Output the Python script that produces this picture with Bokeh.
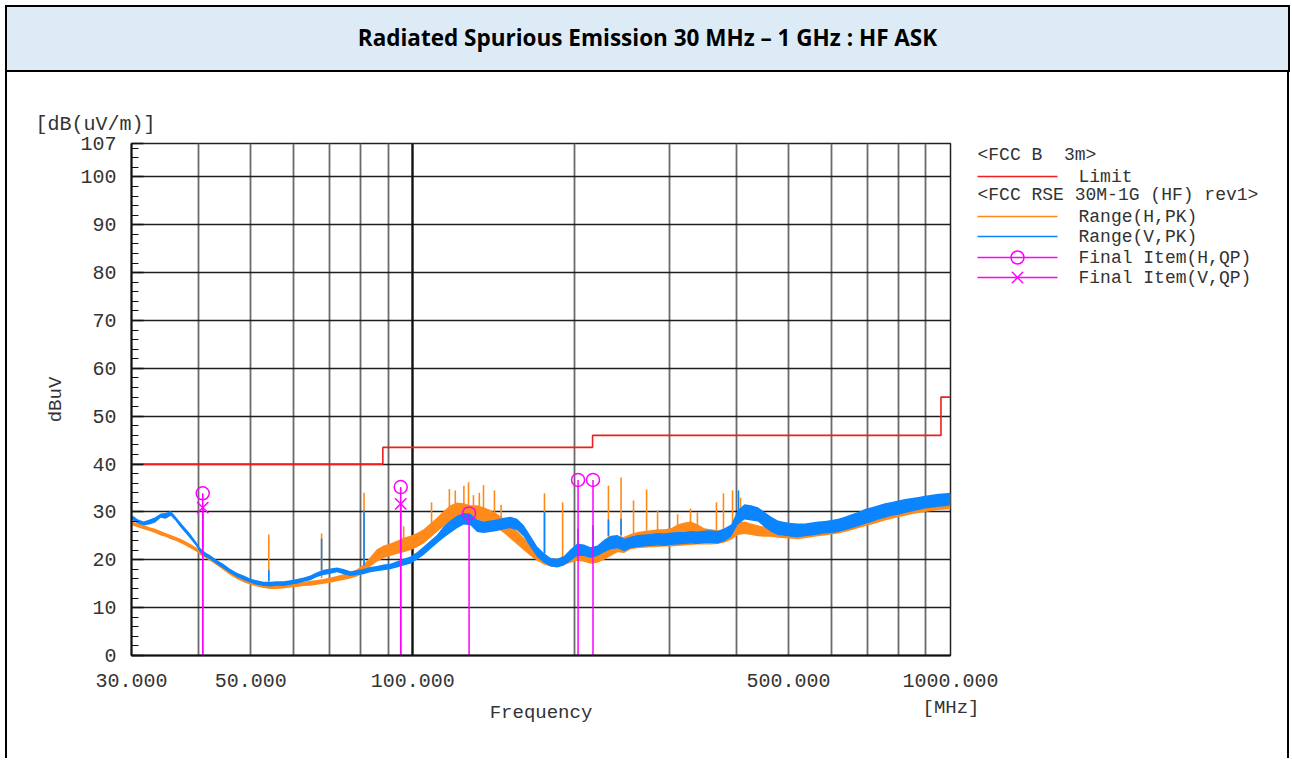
from bokeh.plotting import figure
from bokeh.models import (FixedTicker, PrintfTickFormatter, Div, Grid, Range1d, Title)
from bokeh.core.properties import value
from bokeh.layouts import column, row
from bokeh.embed import file_html
from bokeh.resources import INLINE

TITLE = "Radiated Spurious Emission 30 MHz \u2013 1 GHz : HF ASK"

# ---------------- axes / ticks ----------------
x_label_ticks = [30, 50, 100, 500, 1000]
x_grid_ticks = [40, 50, 60, 70, 80, 90, 100, 200, 300, 400, 500, 600, 700, 800, 900]
y_label_ticks = [0, 10, 20, 30, 40, 50, 60, 70, 80, 90, 100, 107]
y_grid_ticks = [10, 20, 30, 40, 50, 60, 70, 80, 90, 100]
y_minor_ticks = [2, 4, 6, 8, 12, 14, 16, 18, 22, 24, 26, 28, 32, 34, 36, 38,
                 42, 44, 46, 48, 52, 54, 56, 58, 62, 64, 66, 68, 72, 74, 76, 78,
                 82, 84, 86, 88, 92, 94, 96, 98, 102, 104, 106]

# ---------------- limit (FCC B 3m) ----------------
limit_f = [30, 88, 216, 960, 1000]
limit_db = [40, 43.5, 46, 54, 54]

# ---------------- sweep frequencies (MHz) ----------------
freq_mhz = [
    30.0, 30.8, 31.6, 32.4, 33.2, 34.0, 34.7, 35.5, 36.2, 37.0,
    37.8, 38.6, 39.5, 40.3, 41.2, 42.1, 43.3, 44.5, 45.8, 47.1,
    48.5, 49.9, 51.3, 52.8, 54.3, 55.9, 57.5, 59.2, 60.9, 62.7,
    64.5, 66.4, 68.3, 70.3, 72.3, 74.4, 76.6, 78.8, 81.0, 83.4,
    85.8, 88.3, 90.8, 93.5, 96.2, 99.0, 101.8, 104.8, 107.8, 110.9,
    114.2, 117.5, 120.9, 124.4, 128.0, 131.7, 135.5, 139.5, 143.5, 147.7,
    152.0, 156.4, 160.9, 165.6, 170.4, 175.4, 180.5, 185.7, 191.1, 196.6,
    202.3, 208.2, 214.2, 220.5, 226.9, 233.5, 240.3, 247.2, 254.4, 261.8,
    269.4, 277.2, 285.3, 293.6, 302.1, 310.9, 319.9, 329.2, 338.8, 348.6,
    358.7, 369.1, 379.9, 390.9, 402.3, 413.9, 426.0, 438.3, 451.1, 464.2,
    477.6, 491.5, 505.8, 520.5, 535.6, 551.2, 567.2, 583.6, 600.6, 618.0,
    636.0, 654.5, 673.5, 693.0, 713.2, 733.9, 755.2, 777.2, 799.7, 823.0,
    846.9, 871.5, 896.8, 922.9, 949.7, 977.3, 1000.0]

# Range (H, PK) : lower / upper edge of the noisy trace, dB(uV/m)
h_low = [
    27.2, 26.8, 26.4, 26.0, 25.6, 25.1, 24.8, 24.3, 24.0, 23.5,
    23.0, 22.4, 21.8, 21.0, 20.4, 19.7, 18.8, 17.8, 16.8, 16.0,
    15.3, 14.8, 14.4, 14.1, 13.9, 13.9, 14.0, 14.2, 14.3, 14.5,
    14.6, 14.8, 15.0, 15.2, 15.5, 15.8, 16.1, 16.5, 17.2, 18.6,
    19.6, 20.4, 20.8, 21.2, 21.6, 22.0, 22.6, 23.4, 24.6, 25.8,
    27.0, 28.0, 28.6, 28.6, 28.2, 28.4, 28.0, 27.4, 26.6, 25.6,
    24.4, 23.2, 22.0, 20.8, 19.8, 19.0, 18.6, 18.5, 18.9, 19.4,
    19.8, 19.6, 19.2, 19.4, 20.0, 20.8, 21.6, 21.4, 22.2, 22.4,
    22.5, 22.6, 22.7, 22.8, 22.8, 22.9, 23.0, 23.1, 23.2, 23.2,
    23.2, 23.3, 23.6, 24.2, 25.2, 25.4, 25.2, 24.9, 24.8, 24.8,
    24.6, 24.5, 24.4, 24.3, 24.5, 24.7, 24.9, 25.1, 25.3, 25.5,
    25.8, 26.2, 26.6, 27.0, 27.4, 27.8, 28.2, 28.6, 28.9, 29.2,
    29.5, 29.8, 30.0, 30.2, 30.4, 30.5, 30.6]
h_high = [
    28.1, 27.6, 27.3, 26.8, 26.5, 26.0, 25.6, 25.2, 24.8, 24.4,
    23.9, 23.3, 22.6, 21.9, 21.3, 20.6, 19.7, 18.7, 17.7, 16.9,
    16.2, 15.7, 15.3, 15.0, 14.9, 14.8, 15.0, 15.1, 15.3, 15.4,
    15.6, 15.8, 16.0, 16.3, 16.6, 17.0, 17.4, 18.0, 19.0, 20.6,
    22.2, 23.0, 23.4, 24.0, 24.6, 25.0, 25.6, 26.4, 27.6, 28.8,
    30.2, 31.4, 32.0, 31.8, 31.4, 31.4, 31.0, 30.4, 29.6, 28.6,
    27.4, 26.0, 24.6, 23.2, 22.0, 21.0, 20.4, 20.2, 20.6, 21.4,
    21.8, 21.4, 20.8, 21.2, 22.2, 23.6, 24.6, 24.8, 25.4, 25.8,
    26.0, 26.2, 26.4, 26.4, 26.6, 27.4, 27.8, 28.0, 27.4, 26.6,
    26.4, 26.2, 26.4, 27.0, 27.8, 28.0, 27.6, 27.2, 26.9, 26.7,
    26.8, 26.8, 26.8, 26.9, 27.0, 27.2, 27.4, 27.7, 27.9, 28.2,
    28.6, 29.0, 29.5, 30.0, 30.4, 30.9, 31.3, 31.6, 31.9, 32.2,
    32.5, 32.8, 33.1, 33.3, 33.6, 33.7, 33.8]

# Range (V, PK)
v_low = [
    28.4, 27.6, 27.2, 27.4, 27.8, 28.8, 28.6, 29.2, 28.2, 26.8,
    25.6, 24.4, 23.0, 21.4, 20.6, 20.0, 19.0, 18.2, 17.2, 16.4,
    15.8, 15.2, 14.8, 14.5, 14.4, 14.6, 14.5, 14.8, 15.0, 15.4,
    15.7, 16.4, 16.8, 17.1, 17.4, 17.0, 16.6, 16.8, 17.0, 17.4,
    17.6, 17.8, 18.0, 18.4, 18.8, 19.2, 20.0, 21.0, 22.2, 23.4,
    24.6, 25.6, 26.6, 27.4, 27.2, 25.8, 25.6, 25.8, 26.0, 26.4,
    26.6, 26.2, 24.8, 22.6, 20.6, 19.4, 18.6, 18.4, 18.8, 19.8,
    20.8, 20.8, 20.4, 20.8, 21.6, 22.2, 22.4, 21.8, 22.4, 22.6,
    22.8, 22.9, 23.0, 22.9, 23.1, 23.2, 23.3, 23.4, 23.3, 23.5,
    23.5, 23.4, 23.9, 24.8, 27.4, 28.4, 28.2, 28.0, 26.8, 25.8,
    25.2, 25.0, 24.8, 24.7, 24.9, 25.1, 25.3, 25.5, 25.6, 25.8,
    26.2, 26.6, 27.0, 27.5, 27.9, 28.4, 28.8, 29.2, 29.4, 29.8,
    30.1, 30.4, 30.7, 30.9, 31.1, 31.2, 31.4]
v_high = [
    29.4, 28.5, 28.0, 28.4, 28.9, 29.7, 29.8, 30.2, 29.1, 27.8,
    26.6, 25.4, 23.9, 22.4, 21.5, 20.9, 19.9, 19.1, 18.1, 17.3,
    16.7, 16.1, 15.7, 15.4, 15.4, 15.5, 15.5, 15.7, 16.0, 16.3,
    16.7, 17.4, 17.9, 18.2, 18.4, 18.1, 17.6, 17.8, 18.1, 18.5,
    18.7, 19.0, 19.2, 19.7, 20.2, 20.7, 21.6, 22.8, 24.0, 25.2,
    27.0, 28.2, 29.2, 29.8, 29.6, 28.4, 28.0, 28.2, 28.4, 28.8,
    29.0, 28.6, 27.2, 25.0, 22.8, 21.4, 20.4, 20.2, 20.8, 22.2,
    23.4, 23.2, 22.6, 23.0, 24.2, 25.0, 25.2, 24.4, 24.8, 25.2,
    25.3, 25.4, 25.6, 25.5, 25.7, 25.8, 25.8, 26.0, 25.9, 26.1,
    26.2, 26.0, 26.6, 27.4, 30.4, 31.6, 31.4, 31.0, 30.0, 29.0,
    28.2, 27.9, 27.7, 27.6, 27.6, 27.8, 28.0, 28.1, 28.3, 28.6,
    29.0, 29.5, 30.0, 30.6, 31.0, 31.4, 31.8, 32.1, 32.4, 32.7,
    32.9, 33.1, 33.4, 33.6, 33.8, 33.9, 34.0]

# narrow spurious peaks in the peak sweeps
h_spike_f = [54.0, 67.7, 81.2, 96.2, 108.4, 117.0, 120.0, 124.5, 127.0, 129.7,
             133.0, 135.4, 141.9, 146.0, 175.8, 190.0, 231.2, 244.0, 257.4, 272.2,
             285.3, 310.9, 328.5, 338.4, 367.1, 378.3, 393.3, 406.9]
h_spike_base = [15.0, 16.2, 18.5, 24.0, 27.0, 30.5, 31.5, 31.5, 31.0, 31.0,
                31.0, 30.5, 29.5, 28.5, 21.0, 20.5, 23.4, 24.6, 25.2, 25.8,
                26.2, 27.0, 27.0, 26.8, 26.0, 26.2, 27.0, 27.8]
h_spike_top = [25.3, 25.5, 34.0, 27.0, 32.0, 34.8, 34.5, 35.5, 36.2, 33.5,
               34.0, 35.6, 34.5, 31.5, 33.9, 32.0, 35.5, 37.2, 32.4, 34.7,
               30.3, 29.5, 30.7, 29.9, 32.0, 33.9, 34.5, 33.0]
v_spike_f = [40.7, 54.0, 67.7, 81.2, 175.8, 203.0, 216.4, 231.2, 244.0, 403.4]
v_spike_base = [22.5, 15.6, 17.8, 18.8, 21.4, 23.0, 22.6, 25.0, 25.2, 30.4]
v_spike_top = [30.0, 17.8, 24.4, 30.3, 30.0, 26.5, 27.2, 28.4, 28.6, 34.5]

# final quasi-peak items
qp_h_f = [40.7, 95.0, 127.3, 203.0, 216.4]
qp_h_db = [33.9, 35.2, 29.7, 36.7, 36.7]
qp_v_f = [40.7, 95.0]
qp_v_db = [30.9, 31.7]

# legend content (non-breaking space keeps the double gap visible)
legend_headers = ["<FCC B\u00a0 3m>", "<FCC RSE 30M-1G (HF) rev1>"]
legend_labels = ["Limit", "Range(H,PK)", "Range(V,PK)", "Final Item(H,QP)", "Final Item(V,QP)"]

# ---------------- styling ----------------
ORANGE = "#FF8A1A"
BLUE = "#0A84FF"
RED = "#F01E1E"
MAGENTA = "#FF00FF"
MONO = "Liberation Mono"
TXT = "#333333"

# page geometry (px)
PAGE_X0 = 5
ROW_H = 686
BORDER_TOP, BORDER_BOTTOM = 71, 103     # above / below the plotting frame
P_LEFT = 124
P_WIDTH = 1280

p = figure(width=P_WIDTH, height=ROW_H, x_axis_type="log",
           x_range=Range1d(30, 1000), y_range=Range1d(0, 107),
           output_backend="svg", toolbar_location=None,
           min_border_left=P_LEFT, min_border_right=P_WIDTH - P_LEFT - 819,
           min_border_top=BORDER_TOP, min_border_bottom=BORDER_BOTTOM,
           background_fill_color="white", border_fill_color="white", margin=0)

p.title.text = "[dB(uV/m)]"
p.title.align = "left"
p.title.offset = -96
p.title.text_font = MONO
p.title.text_font_size = "20px"
p.title.text_font_style = "normal"
p.title.text_color = TXT
p.title.standoff = 16

p.outline_line_color = "#222222"
p.outline_line_width = 1.5

p.xaxis.ticker = FixedTicker(ticks=x_label_ticks)
p.xaxis.formatter = PrintfTickFormatter(format="%.3f")
p.xaxis.major_tick_in = 0
p.xaxis.major_tick_out = 0
p.xaxis.minor_tick_in = 0
p.xaxis.minor_tick_out = 0
p.xaxis.axis_label = "Frequency"
p.xaxis.major_label_standoff = 18
p.xaxis.axis_label_standoff = 12

p.yaxis.ticker = FixedTicker(ticks=y_label_ticks, minor_ticks=y_minor_ticks)
p.yaxis.major_tick_in = 12
p.yaxis.major_tick_out = 0
p.yaxis.minor_tick_in = 7
p.yaxis.minor_tick_out = 0
p.yaxis.major_tick_line_color = "#111111"
p.yaxis.major_tick_line_width = 1.5
p.yaxis.minor_tick_line_color = "#111111"
p.yaxis.minor_tick_line_width = 1.2
p.yaxis.axis_label = "dBuV"
p.yaxis.major_label_standoff = 15
p.yaxis.axis_label_standoff = 10

for ax in (p.xaxis, p.yaxis):
    ax.axis_line_color = "#111111"
    ax.axis_line_width = 2
    ax.major_label_text_font = MONO
    ax.major_label_text_font_size = "20px"
    ax.major_label_text_color = TXT
    ax.axis_label_text_font = MONO
    ax.axis_label_text_font_size = "19px"
    ax.axis_label_text_font_style = "normal"
    ax.axis_label_text_color = TXT

p.xgrid.ticker = FixedTicker(ticks=x_grid_ticks)
p.xgrid.grid_line_color = "#6A6A6A"
p.xgrid.grid_line_width = 1.8
p.ygrid.ticker = FixedTicker(ticks=y_grid_ticks)
p.ygrid.grid_line_color = "#1E1E1E"
p.ygrid.grid_line_width = 1.3
p.add_layout(Grid(dimension=0, ticker=FixedTicker(ticks=[100]),
                  grid_line_color="#111111", grid_line_width=2.2))

# traces
p.varea(x=freq_mhz, y1=h_low, y2=h_high, fill_color=ORANGE)
p.segment(x0=h_spike_f, y0=h_spike_base, x1=h_spike_f, y1=h_spike_top,
          line_color=ORANGE, line_width=1.6)
p.varea(x=freq_mhz, y1=v_low, y2=v_high, fill_color=BLUE)
p.segment(x0=v_spike_f, y0=v_spike_base, x1=v_spike_f, y1=v_spike_top,
          line_color=BLUE, line_width=1.6)

p.step(x=limit_f, y=limit_db, mode="after", line_color=RED, line_width=1.6)

p.segment(x0=qp_h_f, y0=0, x1=qp_h_f, y1=qp_h_db, line_color=MAGENTA, line_width=1.5)
p.scatter(x=qp_h_f, y=qp_h_db, marker="circle", size=13,
          fill_color=None, line_color=MAGENTA, line_width=1.5)
p.segment(x0=qp_v_f, y0=0, x1=qp_v_f, y1=qp_v_db, line_color=MAGENTA, line_width=1.5)
p.scatter(x=qp_v_f, y=qp_v_db, marker="x", size=16, line_color=MAGENTA, line_width=1.5)

# ---------------- legend panel: transparent overlay in page-pixel coordinates ----------------
LG_LEFT, LG_RIGHT = 910, PAGE_X0 + 2 + P_WIDTH
FRAME_TOP = PAGE_X0 + 67 + BORDER_TOP          # page y of the plot frame's top
FRAME_BOTTOM = FRAME_TOP + 512
lg = figure(width=LG_RIGHT - LG_LEFT, height=ROW_H,
            x_range=Range1d(LG_LEFT, LG_RIGHT), y_range=Range1d(FRAME_BOTTOM, FRAME_TOP),
            output_backend="svg", toolbar_location=None,
            min_border_left=0, min_border_right=0,
            min_border_top=BORDER_TOP, min_border_bottom=BORDER_BOTTOM,
            x_axis_location=None, y_axis_location=None,
            background_fill_color=None, border_fill_color=None,
            outline_line_color=None, margin=(0, 0, 0, -(LG_RIGHT - LG_LEFT)))
lg.grid.visible = False

KEY_X0, KEY_X1, KEY_MID, TEXT_X = 977, 1057, 1017, 1078
header_rows = [154, 194]
item_rows = [176, 216, 236, 257, 277]
item_colors = [RED, ORANGE, BLUE, MAGENTA, MAGENTA]

font_kw = dict(text_font=value(MONO), text_font_size=value("18px"),
               text_color=TXT, text_baseline="middle", text_align="left")
lg.text(x=[KEY_X0, KEY_X0], y=header_rows, text=legend_headers, **font_kw)
lg.text(x=[TEXT_X] * len(item_rows), y=item_rows, text=legend_labels, **font_kw)
lg.segment(x0=[KEY_X0] * len(item_rows), x1=[KEY_X1] * len(item_rows),
           y0=item_rows, y1=item_rows, line_color=item_colors, line_width=1.6)
lg.scatter(x=[KEY_MID], y=[item_rows[3]], marker="circle", size=13,
           fill_color=None, line_color=MAGENTA, line_width=1.5)
lg.scatter(x=[KEY_MID], y=[item_rows[4]], marker="x", size=16,
           line_color=MAGENTA, line_width=1.5)

mhz = Title(text="[MHz]", align="left", offset=922 - LG_LEFT, standoff=78,
            text_font=MONO, text_font_size="19px", text_font_style="normal",
            text_color=TXT)
lg.add_layout(mhz, "below")

header = Div(text=("<div style='display:flex;align-items:center;justify-content:center;"
                   "width:1281px;height:63px;font-family:\"Open Sans\";font-weight:700;"
                   "font-size:22.5px;color:#000'>" + TITLE + "</div>"),
             width=1285, height=67, margin=(PAGE_X0, 0, 0, PAGE_X0),
             styles={"background-color": "#DDEBF7", "border": "2px solid #000",
                     "box-sizing": "border-box"})
left_border = Div(text="", width=2, height=ROW_H, margin=(0, 0, 0, PAGE_X0),
                  styles={"background-color": "#000"})
right_border = Div(text="", width=2, height=ROW_H, margin=0,
                   styles={"background-color": "#000"})

layout = column(header, row(left_border, p, lg, right_border))

open("out.html", "w").write(file_html(layout, INLINE))
